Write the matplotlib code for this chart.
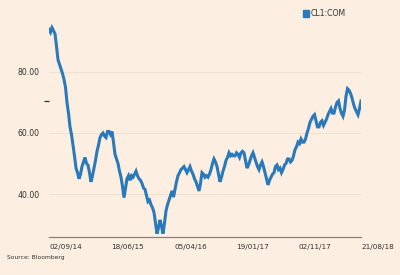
import numpy as np
import pandas as pd
import matplotlib
matplotlib.use('Agg')
import matplotlib.pyplot as plt
from matplotlib.patches import Rectangle

# CL1:COM, valores semanales
fecha_inicio = '2014-09-02'
fecha_fin = '2018-08-21'
precios = [
    94.0, 93.0, 94.5, 93.5, 92.5, 88.5, 84.0, 82.5, 81.0, 79.5,
    77.5, 75.0, 70.0, 66.5, 62.0, 59.5, 56.0, 52.5, 48.5, 47.0,
    45.0, 46.5, 49.0, 50.5, 52.0, 50.0, 49.5, 47.0, 44.0, 46.0,
    48.5, 51.0, 54.0, 56.0, 58.5, 59.5, 60.0, 59.0, 58.5, 60.5,
    60.5, 59.5, 60.5, 57.0, 53.0, 51.5, 50.0, 47.5, 45.5, 42.5,
    38.8, 42.0, 45.0, 46.0, 44.5, 46.0, 45.5, 46.5, 47.5, 46.0,
    45.0, 44.5, 43.5, 42.0, 41.5, 39.5, 37.5, 38.0, 36.5, 35.5,
    34.0, 30.5, 27.0, 29.0, 31.5, 29.5, 27.0, 30.5, 34.5, 36.5,
    38.0, 39.5, 41.0, 39.0, 41.5, 44.0, 46.0, 47.0, 48.0, 48.5,
    49.0, 48.0, 47.0, 48.0, 49.0, 47.5, 46.5, 45.0, 44.0, 42.5,
    41.0, 43.5, 47.0, 46.5, 45.5, 46.0, 45.5, 46.5, 48.0, 50.0,
    51.5, 50.5, 49.0, 46.5, 44.0, 45.5, 47.5, 49.0, 51.0, 52.0,
    53.5, 52.5, 53.0, 52.5, 52.5, 53.5, 53.0, 52.0, 53.5, 54.0,
    53.5, 51.0, 48.5, 49.5, 51.0, 52.5, 53.5, 52.0, 50.5, 49.0,
    48.0, 49.5, 50.5, 49.0, 47.0, 45.0, 43.0, 44.5, 45.5, 46.5,
    47.0, 49.0, 49.5, 48.0, 48.5, 47.0, 48.0, 49.5, 50.0, 51.5,
    51.5, 50.5, 51.0, 52.5, 54.5, 55.5, 57.0, 56.5, 58.0, 57.0,
    57.0, 58.0, 60.0, 61.5, 63.5, 64.5, 65.5, 66.0, 64.0, 62.0,
    62.0, 63.5, 64.0, 62.5, 63.5, 64.5, 66.0, 67.0, 68.0, 66.5,
    66.5, 68.5, 70.0, 70.5, 68.0, 66.5, 65.5, 67.5, 72.0, 74.5,
    74.0, 73.0, 71.5, 69.5, 68.0, 67.0, 66.0, 68.0, 70.5,
]
fechas = pd.date_range(fecha_inicio, fecha_fin, periods=len(precios))

etiquetas_x = ['02/09/14', '18/06/15', '05/04/16', '19/01/17', '02/11/17', '21/08/18']
ticks_y = [40, 60, 80]
serie = 'CL1:COM'
fuente = 'Source: Bloomberg'

fondo = '#fcefe2'
azul = '#2a79ba'
texto = '#33302e'

fig = plt.figure(figsize=(4, 2.75), dpi=100, facecolor=fondo)
ax = fig.add_axes([0.1225, 0.138, 0.78, 0.789], facecolor=fondo)

ax.plot(fechas, precios, color=azul, lw=2.2, solid_joinstyle='miter')

ax.set_xlim(fechas[0], fechas[-1])
ax.set_ylim(25.9, 97)

ticks_x = pd.to_datetime(etiquetas_x, format='%d/%m/%y')
ax.set_xticks(ticks_x)
ax.set_xticklabels(etiquetas_x, ha='left', fontsize=5.2, color=texto)
ax.set_yticks(ticks_y)
ax.set_yticklabels(['%.2f' % v for v in ticks_y], fontsize=5.6, color=texto)
ax.set_yticks([precios[-1]], minor=True)
ax.tick_params(axis='both', which='major', length=0)
ax.tick_params(axis='x', pad=5)
ax.tick_params(axis='y', pad=7)
ax.tick_params(axis='y', which='minor', length=3.5, width=0.9, color=texto, direction='out')

ax.grid(axis='y', color='#efe0d2', lw=0.7)
for lado in ['top', 'right', 'left']:
    ax.spines[lado].set_visible(False)
ax.spines['bottom'].set_color('#8c7f75')
ax.spines['bottom'].set_linewidth(0.9)

# leyenda
fig.patches.append(Rectangle((303 / 400, 1 - 17 / 275), 6 / 400, 7 / 275,
                             transform=fig.transFigure, color=azul, figure=fig))
fig.text(311 / 400, 1 - 13.5 / 275, serie, fontsize=5.6, color=texto, va='center')
fig.text(7 / 400, 1 - 258 / 275, fuente, fontsize=4.3, color=texto, va='center')

fig.savefig('out.png', dpi=100, facecolor=fondo)
